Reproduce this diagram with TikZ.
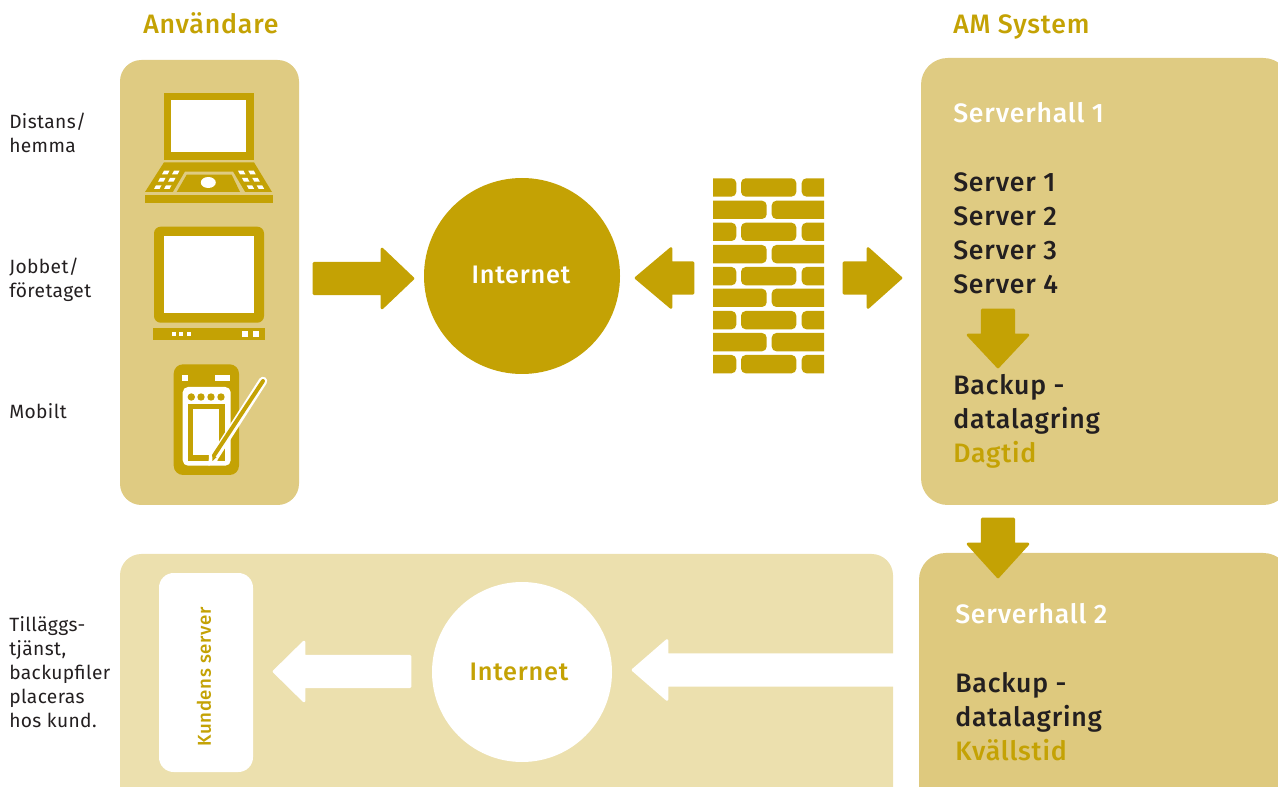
\documentclass[tikz,border=0pt]{standalone}
\usepackage{fontspec}
\setmainfont[LetterSpace=2]{Fira Sans}
\newfontfamily\medfont[LetterSpace=3]{Fira Sans Medium}
\definecolor{gold}{HTML}{C4A204}
\definecolor{panelA}{HTML}{DFCB82}
\definecolor{panelB}{HTML}{DEC97E}
\definecolor{panelC}{HTML}{ECE0AE}
\definecolor{inkdark}{HTML}{231F20}
\newcommand{\harrow}[7]{% color tailend tipx y halfTail barbx halfHead
  \fill[#1,draw=#1,line width=2pt,line join=round] (#2,#4-#5) -- (#6,#4-#5) -- (#6,#4-#7) -- (#3,#4) -- (#6,#4+#7) -- (#6,#4+#5) -- (#2,#4+#5) -- cycle;}
\newcommand{\varrow}[6]{% x tail tip halfTail barb halfHead
  \fill[gold,draw=gold,line width=2pt,line join=round] (#1-#4,#2) -- (#1-#4,#5) -- (#1-#6,#5) -- (#1,#3) -- (#1+#6,#5) -- (#1+#4,#5) -- (#1+#4,#2) -- cycle;}
\tikzset{
  x=0.75pt,y=-0.75pt,
  sidelabel/.style={anchor=base west,font=\fontsize{14.4}{16}\selectfont,text=inkdark,inner sep=0},
  heading/.style={anchor=base west,font=\medfont\fontsize{20}{22}\selectfont,text=gold,inner sep=0},
  hallhead/.style={anchor=base west,font=\medfont\fontsize{20}{22}\selectfont,text=white,inner sep=0},
  hallitem/.style={anchor=base west,font=\medfont\fontsize{20}{22}\selectfont,text=inkdark,inner sep=0},
  halltime/.style={anchor=base west,font=\medfont\fontsize{20}{22}\selectfont,text=gold,inner sep=0},
  brick/.style={fill=gold,rounded corners=3.5pt},
  key/.style={fill=white},
}
\begin{document}
\begin{tikzpicture}
\useasboundingbox (0,0) rectangle (1278,787);
\clip (0,0) rectangle (1278,787);
% panels
\fill[panelA,rounded corners=16pt] (120,60) rectangle (299,505);
\fill[panelA,rounded corners=20pt] (921,58) rectangle (1290,505);
\fill[panelC,rounded corners=16pt] (120,554) rectangle (893,820);
\fill[panelB,rounded corners=20pt] (919,553) rectangle (1290,820);
\fill[white,rounded corners=11pt] (159,573) rectangle (253,772);
% circles
\node[circle,fill=gold,minimum size=147pt,inner sep=0] (net1) at (522,276) {};
\node[circle,fill=white,minimum size=135pt,inner sep=0] (net2) at (522,672) {};
\node[anchor=base,text=white,font=\medfont\fontsize{19}{22}\selectfont,inner sep=0] (net1t) at (521,284) {Internet};
\node[anchor=base,text=gold,font=\medfont\fontsize{19}{22}\selectfont,inner sep=0] (net2t) at (519,680) {Internet};
\node[rotate=90,text=gold,font=\medfont\fontsize{14}{16}\selectfont,inner sep=0] (kund) at (204,677) {Kundens server};
% laptop
\fill[gold] (164,93) rectangle (254,160);
\fill[white] (171,100) rectangle (246,152);
\fill[gold] (164,162.3) -- (254,162.3) -- (272,192) -- (145,192) -- cycle;
\fill[panelA] (185,171.7) -- (233,171.7) -- (245,192) -- (173,192) -- cycle;
\fill[gold] (186.7,174.7) -- (231.7,174.7) -- (240,192) -- (176.7,192) -- cycle;
\fill[gold] (145,195) rectangle (273,203);
\fill[white] (208.3,182.5) ellipse (7.5 and 5.5);
\foreach \xx/\yy in {162/170.7,172/170.7,158/178,168/178,154/185.3,164/185.3,
                     238/170.7,248.3/170.7,242/178,252.3/178,246.7/185.3,256.7/185.3}{
  \ifdim\xx pt<200pt
    \fill[key] (\xx+2,\yy) -- (\xx+7.5,\yy) -- (\xx+5.5,\yy+3.7) -- (\xx,\yy+3.7) -- cycle;
  \else
    \fill[key] (\xx,\yy) -- (\xx+5.5,\yy) -- (\xx+7.5,\yy+3.7) -- (\xx+2,\yy+3.7) -- cycle;
  \fi
}
% monitor
\fill[gold,rounded corners=5pt] (154,226.7) rectangle (264,322.7);
\fill[white] (164,236) rectangle (254,313);
\fill[gold] (153,328) rectangle (265,340);
\foreach \xx in {172,179,187}{\fill[white] (\xx,332) rectangle (\xx+4,336);}
\foreach \xx in {242,253}{\fill[white] (\xx,331) rectangle (\xx+6,337);}
% handheld
\fill[gold,rounded corners=7pt] (173.7,364.3) rectangle (239,475);
\fill[white] (182,375) rectangle (188,381);
\fill[white] (215,375) rectangle (230,381);
\fill[white,rounded corners=4pt] (182.7,387) rectangle (230.7,465.7);
\foreach \xx in {191.3,201,211,221}{\fill[gold] (\xx,397) circle (3.7);}
\fill[gold] (188,403.7) rectangle (225.3,461);
\fill[white] (193,409) rectangle (219,455);
\draw[white,line width=6.4pt,line cap=round] (213,459) -- (263,381);
\fill[white] (208.5,466) -- (209,454) -- (218,460) -- cycle;
\draw[gold,line width=3pt,line cap=round] (214,455.5) -- (263,381);
\fill[gold] (212.5,461) -- (212.3,454.5) -- (216.5,457.3) -- cycle;
% firewall
\begin{scope}
\clip (713,170) rectangle (824,380);
\foreach \t in {178.3,222.7,267,311,355}{
  \fill[brick] (700,\t) rectangle (736.3,\t+18.3);
  \fill[brick] (741,\t) rectangle (796.3,\t+18.3);
  \fill[brick] (801.7,\t) rectangle (840,\t+18.3);
}
\foreach \t in {200.7,245,288.7,333}{
  \fill[brick] (700,\t) rectangle (766.7,\t+18.3);
  \fill[brick] (771.7,\t) rectangle (840,\t+18.3);
}
\end{scope}
% block arrows
\harrow{gold}{314}{413}{278.5}{15.2}{382}{29.5}
\harrow{gold}{693}{636}{278}{15.2}{671}{29.5}
\harrow{gold}{844}{901}{278}{15.2}{868}{29.5}
\varrow{998}{310}{367}{15.8}{335}{30}
\varrow{998}{519}{577}{15.8}{544}{30}
\harrow{white}{410}{274}{671.5}{15.2}{304}{29.5}
\harrow{white}{900}{633}{670}{15.2}{667}{29.5}
% texts
\node[heading] (h1) at (143,34) {Användare};
\node[heading] (h2) at (953,34) {AM System};
\node[sidelabel] (l1) at (9,129) {Distans/};
\node[sidelabel] (l2) at (9,153) {hemma};
\node[sidelabel] (l3) at (9,274) {Jobbet/};
\node[sidelabel] (l4) at (9,298) {företaget};
\node[sidelabel] (l5) at (9,419) {Mobilt};
\node[sidelabel] (l6) at (9,631) {Tilläggs-};
\node[sidelabel] (l7) at (9,655) {tjänst,};
\node[sidelabel] (l8) at (9,679) {backupfiler};
\node[sidelabel] (l9) at (9,703) {placeras};
\node[sidelabel] (l10) at (9,727) {hos kund.};
\node[hallhead] (s0) at (953,123) {Serverhall 1};
\node[hallitem] (s1) at (953,192) {Server 1};
\node[hallitem] (s2) at (953,226) {Server 2};
\node[hallitem] (s3) at (953,260) {Server 3};
\node[hallitem] (s4) at (953,294) {Server 4};
\node[hallitem] (b1) at (953,395) {Backup -};
\node[hallitem] (b2) at (953,429) {datalagring};
\node[halltime] (b3) at (953,463) {Dagtid};
\node[hallhead] (t0) at (955,623) {Serverhall 2};
\node[hallitem] (t1) at (955,692) {Backup -};
\node[hallitem] (t2) at (955,726) {datalagring};
\node[halltime] (t3) at (955,760) {Kvällstid};
\end{tikzpicture}
\end{document}
